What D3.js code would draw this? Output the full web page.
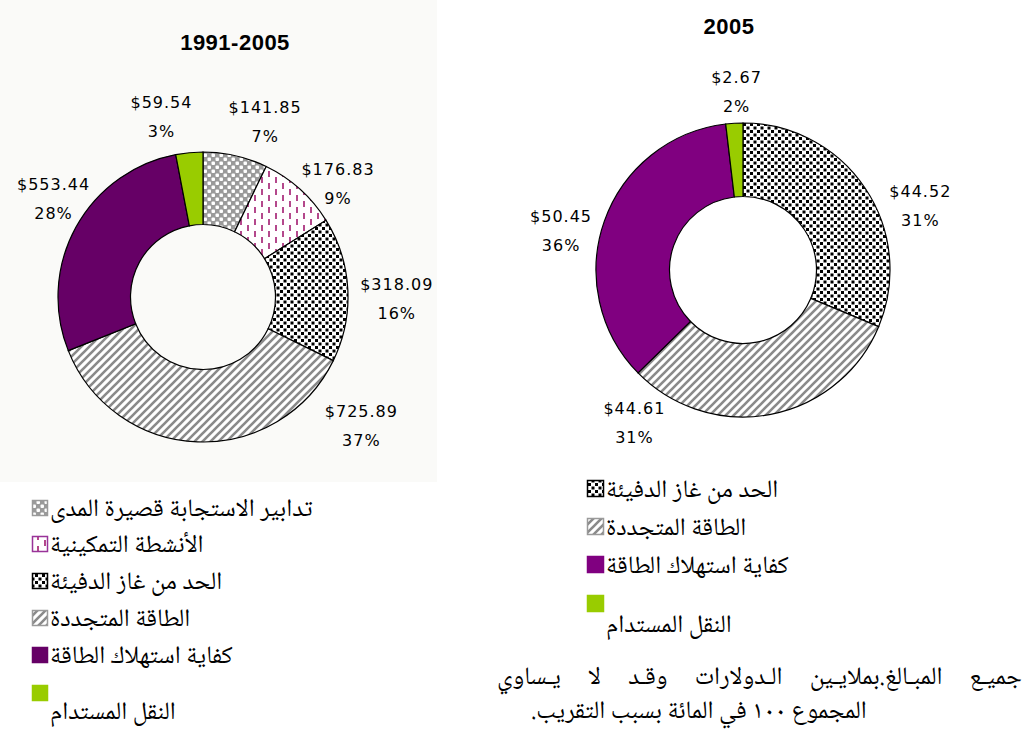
<!DOCTYPE html>
<html lang="ar">
<head>
<meta charset="UTF-8">
<title>تمويل الأنشطة 1991-2005</title>
<script src="https://d3js.org/d3.v7.min.js"></script>
<style>
    body, html {
        margin: 0;
        padding: 0;
        background: #fff;
        overflow: hidden;
    }
    .lbl {
        font-family: "DejaVu Sans", sans-serif;
        font-size: 16px;
        letter-spacing: 1px;
        fill: #000;
    }
    .ttl {
        font-family: "Liberation Sans", Arial, sans-serif;
        font-weight: bold;
        font-size: 22px;
        letter-spacing: 0.5px;
        fill: #000;
    }
    .ar {
        font-family: "Noto Naskh Arabic", "Amiri", "Traditional Arabic", "DejaVu Sans", serif;
        font-size: 25px;
        fill: #000;
    }
</style>
</head>
<body>
<svg id="chart" width="1034" height="738"></svg>
<script>
    // categories (keys + Arabic names)
    var catKeys = ["short", "enabling", "ghg", "renew", "eff", "transport"];
    var catNames = [
        "تدابير الاستجابة قصيرة المدى",
        "الأنشطة التمكينية",
        "الحد من غاز الدفيئة",
        "الطاقة المتجددة",
        "كفاية استهلاك الطاقة",
        "النقل المستدام"
    ];

    // 1991-2005 series
    var keysAll = ["short", "enabling", "ghg", "renew", "eff", "transport"];
    var valuesAll = [141.85, 176.83, 318.09, 725.89, 553.44, 59.54];
    var pctAll = ["7%", "9%", "16%", "37%", "28%", "3%"];

    // 2005 series
    var keys2005 = ["ghg", "renew", "eff", "transport"];
    var values2005 = [44.52, 44.61, 50.45, 2.67];
    var pct2005 = ["31%", "31%", "36%", "2%"];

    var titles = ["1991-2005", "2005"];
    var noteLines = [
        "جميـع المبـالغ.بملايـين الـدولارات وقـد لا يـساوي",
        "المجموع ١٠٠ في المائة بسبب التقريب.\u200F"
    ];

    var svg = d3.select("#chart");
    var defs = svg.append("defs");

    // --- hatch patterns ---
    var p = defs.append("pattern").attr("id", "pChecker")
        .attr("patternUnits", "userSpaceOnUse").attr("width", 8).attr("height", 8);
    p.append("rect").attr("width", 8).attr("height", 8).attr("fill", "#9a9a9a");
    p.append("rect").attr("x", 0.5).attr("y", 0.5).attr("width", 3.5).attr("height", 3.5).attr("rx", 1).attr("fill", "#fff");
    p.append("rect").attr("x", 4.5).attr("y", 4.5).attr("width", 3.5).attr("height", 3.5).attr("rx", 1).attr("fill", "#fff");

    p = defs.append("pattern").attr("id", "pDash")
        .attr("patternUnits", "userSpaceOnUse").attr("width", 14).attr("height", 12);
    p.append("rect").attr("width", 14).attr("height", 12).attr("fill", "#fff");
    p.append("rect").attr("x", 2).attr("y", 0).attr("width", 2).attr("height", 6).attr("fill", "#b4488c");
    p.append("rect").attr("x", 9).attr("y", 6).attr("width", 2).attr("height", 6).attr("fill", "#b4488c");

    p = defs.append("pattern").attr("id", "pDots")
        .attr("patternUnits", "userSpaceOnUse").attr("width", 7).attr("height", 7);
    p.append("rect").attr("width", 7).attr("height", 7).attr("fill", "#fff");
    p.append("rect").attr("x", 0).attr("y", 0).attr("width", 3).attr("height", 3).attr("fill", "#000");
    p.append("rect").attr("x", 3.5).attr("y", 3.5).attr("width", 3).attr("height", 3).attr("fill", "#000");

    p = defs.append("pattern").attr("id", "pStripe")
        .attr("patternUnits", "userSpaceOnUse").attr("width", 8).attr("height", 8);
    p.append("rect").attr("width", 8).attr("height", 8).attr("fill", "#fff");
    p.append("path").attr("d", "M-2,2 L2,-2 M0,8 L8,0 M6,10 L10,6")
        .attr("stroke", "#8a8a8a").attr("stroke-width", 2.6);

    var fillLeft = {short: "url(#pChecker)", enabling: "url(#pDash)", ghg: "url(#pDots)",
        renew: "url(#pStripe)", eff: "#660066", transport: "#99cc00"};
    var fillRight = {ghg: "url(#pDots)", renew: "url(#pStripe)", eff: "#800080", transport: "#99cc00"};
    var swatchStroke = {short: "#9a9a9a", enabling: "#993399", ghg: "#000", renew: "#9a9a9a",
        eff: null, transport: null};

    // background panel behind the left chart
    svg.append("rect").attr("x", 0).attr("y", 0).attr("width", 437).attr("height", 482)
        .attr("fill", "#fafaf8");

    function drawDonut(keys, values, pcts, fills, cx, cy, r, nudges, title, titleX, titleY) {
        var data = keys.map(function(k, i) { return {key: k, v: values[i], pct: pcts[i]}; });
        var pie = d3.pie().sort(null).value(function(d) { return d.v; });
        var arc = d3.arc().innerRadius(r * 0.5).outerRadius(r);
        var labelArc = d3.arc().innerRadius(r + 30).outerRadius(r + 30);
        var g = svg.append("g").attr("transform", "translate(" + cx + "," + cy + ")");

        g.selectAll("path")
            .data(pie(data))
            .enter().append("path")
            .attr("d", arc)
            .attr("fill", function(d) { return fills[d.data.key]; })
            .attr("stroke", "#000")
            .attr("stroke-width", 1.2);

        var lab = g.selectAll("g.lab")
            .data(pie(data))
            .enter().append("g")
            .attr("class", "lab")
            .attr("transform", function(d, i) {
                var c = labelArc.centroid(d);
                return "translate(" + (c[0] + nudges[i][0]) + "," + (c[1] + nudges[i][1]) + ")";
            });
        lab.append("text").attr("class", "lbl").attr("text-anchor", "middle").attr("y", -8)
            .text(function(d) { return "$" + d3.format(".2f")(d.data.v); });
        lab.append("text").attr("class", "lbl").attr("text-anchor", "middle").attr("y", 21)
            .text(function(d) { return d.data.pct; });

        svg.append("text").attr("class", "ttl").attr("text-anchor", "middle")
            .attr("x", titleX).attr("y", titleY).text(title);
    }

    function drawLegend(keys, fills, x, yBottoms, size, lastDrop) {
        var g = svg.append("g");
        keys.forEach(function(k, i) {
            var yb = yBottoms[i];
            var sw = swatchStroke[k];
            g.append("rect")
                .attr("x", x + 0.5).attr("y", yb - size + 0.5)
                .attr("width", size - 1).attr("height", size - 1)
                .attr("fill", fills[k])
                .attr("stroke", sw || fills[k])
                .attr("stroke-width", 1.5);
            var ty = (i === keys.length - 1) ? yb + lastDrop : yb;
            g.append("text").attr("class", "ar")
                .attr("x", x + size + 2).attr("y", ty)
                .text(catNames[catKeys.indexOf(k)]);
        });
    }

    // label nudges from the mid-angle anchor (layout only)
    var nudgeLeft = [[23, -5], [18, 16], [19, 10], [165, -47], [4, -15], [-25, -7]];
    var nudgeRight = [[30, 33], [-142, -22], [-15, 19], [4, -2]];

    drawDonut(keysAll, valuesAll, pctAll, fillLeft, 203, 297, 145, nudgeLeft, titles[0], 235, 50);
    drawDonut(keys2005, values2005, pct2005, fillRight, 743, 270, 147, nudgeRight, titles[1], 729, 34);

    drawLegend(keysAll, fillLeft, 32, [516, 552, 589, 626, 663, 701], 16, 18);
    drawLegend(keys2005, fillRight, 587, [497, 535, 573, 612], 17, 20);

    // footnote: first line justified across the column by widening the word gaps
    var line1 = svg.append("text").attr("class", "ar").attr("x", 497).attr("y", 684)
        .text(noteLines[0]);
    var natural = line1.node().getComputedTextLength();
    var gapCount = noteLines[0].split(" ").length - 1;
    line1.style("word-spacing", Math.max(0, (525 - natural) / gapCount) + "px");
    svg.append("text").attr("class", "ar").attr("x", 531).attr("y", 718)
        .text(noteLines[1]);
</script>
</body>
</html>
